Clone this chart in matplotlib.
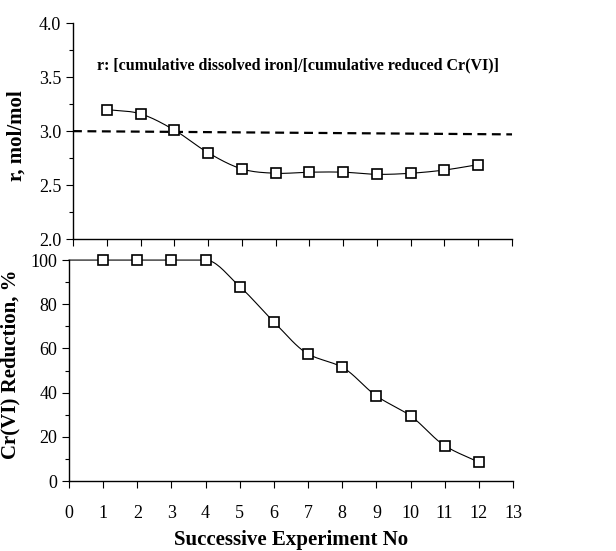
import matplotlib
matplotlib.use("Agg")
import matplotlib.pyplot as plt
import numpy as np
from matplotlib.ticker import MultipleLocator

plt.rcParams["font.family"] = ["Liberation Serif", "DejaVu Serif"]

# Data
experiment = [1, 2, 3, 4, 5, 6, 7, 8, 9, 10, 11, 12]
r_ratio = [3.20, 3.16, 3.01, 2.80, 2.65, 2.61, 2.62, 2.62, 2.60, 2.61, 2.64, 2.69]
reduction = [100, 100, 100, 100, 88, 72, 57.5, 51.5, 38.5, 29.5, 16, 8.5]
# reduction curve starts from the y axis at 100 %
reduction_start = (0, 100)
# dashed reference line r = 3 (slightly tilted in the scan)
ref_x = [0, 13]
ref_y = [3.0, 2.97]
annotation = "r: [cumulative dissolved iron]/[cumulative reduced Cr(VI)]"


def smooth(x, y, n=20):
    # Catmull-Rom curve through the points, like the smoothed line in the original
    x = np.asarray(x, float)
    y = np.asarray(y, float)
    px = np.concatenate([[2 * x[0] - x[1]], x, [2 * x[-1] - x[-2]]])
    py = np.concatenate([[2 * y[0] - y[1]], y, [2 * y[-1] - y[-2]]])
    xs, ys = [], []
    t = np.linspace(0, 1, n)
    for i in range(1, len(px) - 2):
        for p, out in ((px, xs), (py, ys)):
            p0, p1, p2, p3 = p[i - 1], p[i], p[i + 1], p[i + 2]
            out.extend(0.5 * (2 * p1 + (-p0 + p2) * t
                              + (2 * p0 - 5 * p1 + 4 * p2 - p3) * t ** 2
                              + (-p0 + 3 * p1 - 3 * p2 + p3) * t ** 3))
    return np.array(xs), np.array(ys)


def smooth_monotone(x, y, n=20):
    # monotone cubic Hermite curve (no overshoot on the flat 100 % part)
    x = np.asarray(x, float)
    y = np.asarray(y, float)
    h = np.diff(x)
    d = np.diff(y) / h
    m = np.zeros_like(y)
    m[0], m[-1] = d[0], d[-1]
    for i in range(1, len(y) - 1):
        if d[i - 1] * d[i] > 0:
            m[i] = 2 / (1 / d[i - 1] + 1 / d[i])
    xs, ys = [], []
    t = np.linspace(0, 1, n)
    for i in range(len(x) - 1):
        h00 = 2 * t ** 3 - 3 * t ** 2 + 1
        h10 = t ** 3 - 2 * t ** 2 + t
        h01 = -2 * t ** 3 + 3 * t ** 2
        h11 = t ** 3 - t ** 2
        xs.extend(x[i] + t * h[i])
        ys.extend(h00 * y[i] + h10 * h[i] * m[i] + h01 * y[i + 1] + h11 * h[i] * m[i + 1])
    return np.array(xs), np.array(ys)


fig = plt.figure(figsize=(6.16, 5.51), dpi=100)
ax1 = fig.add_axes([0.1185, 0.566, 0.7127, 0.392])
ax2 = fig.add_axes([0.112, 0.127, 0.7208, 0.401])

marker_kw = dict(marker="s", markersize=6.5, markerfacecolor="white",
                 markeredgecolor="black", markeredgewidth=1.2, linestyle="none",
                 clip_on=False, zorder=3)

# top panel: r
sx, sy = smooth(experiment, r_ratio)
ax1.plot(sx, sy, color="black", lw=0.8, clip_on=False)
ax1.plot(ref_x, ref_y, color="black", lw=1.6, linestyle=(0, (4, 2.5)), clip_on=False)
ax1.plot(experiment, r_ratio, **marker_kw)
ax1.set_xlim(0, 13)
ax1.set_ylim(2.0, 4.0)
ax1.yaxis.set_major_locator(MultipleLocator(0.5))
ax1.yaxis.set_minor_locator(MultipleLocator(0.25))
ax1.xaxis.set_major_locator(MultipleLocator(1))
ax1.set_yticklabels([f"{v:.1f}" for v in ax1.get_yticks()])
ax1.tick_params(axis="x", labelbottom=False)
ax1.set_ylabel("r, mol/mol", fontsize=15, fontweight="bold")
ax1.yaxis.set_label_coords(-0.105, 0.48)
ax1.text(6.65, 3.61, annotation, ha="center", va="center",
         fontsize=11.5, fontweight="bold")

# bottom panel: Cr(VI) reduction
rx, ry = smooth_monotone([reduction_start[0]] + experiment,
                         [reduction_start[1]] + reduction)
ax2.plot(rx, ry, color="black", lw=0.8, clip_on=False)
ax2.plot(experiment, reduction, **marker_kw)
ax2.set_xlim(0, 13)
ax2.set_ylim(0, 100)
ax2.yaxis.set_major_locator(MultipleLocator(20))
ax2.yaxis.set_minor_locator(MultipleLocator(10))
ax2.xaxis.set_major_locator(MultipleLocator(1))
ax2.set_ylabel("Cr(VI) Reduction, %", fontsize=15, fontweight="bold")
ax2.yaxis.set_label_coords(-0.11, 0.53)
ax2.set_xlabel("Successive Experiment No", fontsize=15, fontweight="bold", labelpad=6)
ax2.tick_params(axis="x", pad=12)

for ax in (ax1, ax2):
    ax.spines["top"].set_visible(False)
    ax.spines["right"].set_visible(False)
    ax.spines["left"].set_linewidth(1.0)
    ax.spines["bottom"].set_linewidth(1.0)
    ax.tick_params(which="both", direction="out", labelsize=13, width=0.8)
    ax.tick_params(which="major", length=5)
    ax.tick_params(which="minor", length=3)

fig.savefig("out.png", dpi=100)
